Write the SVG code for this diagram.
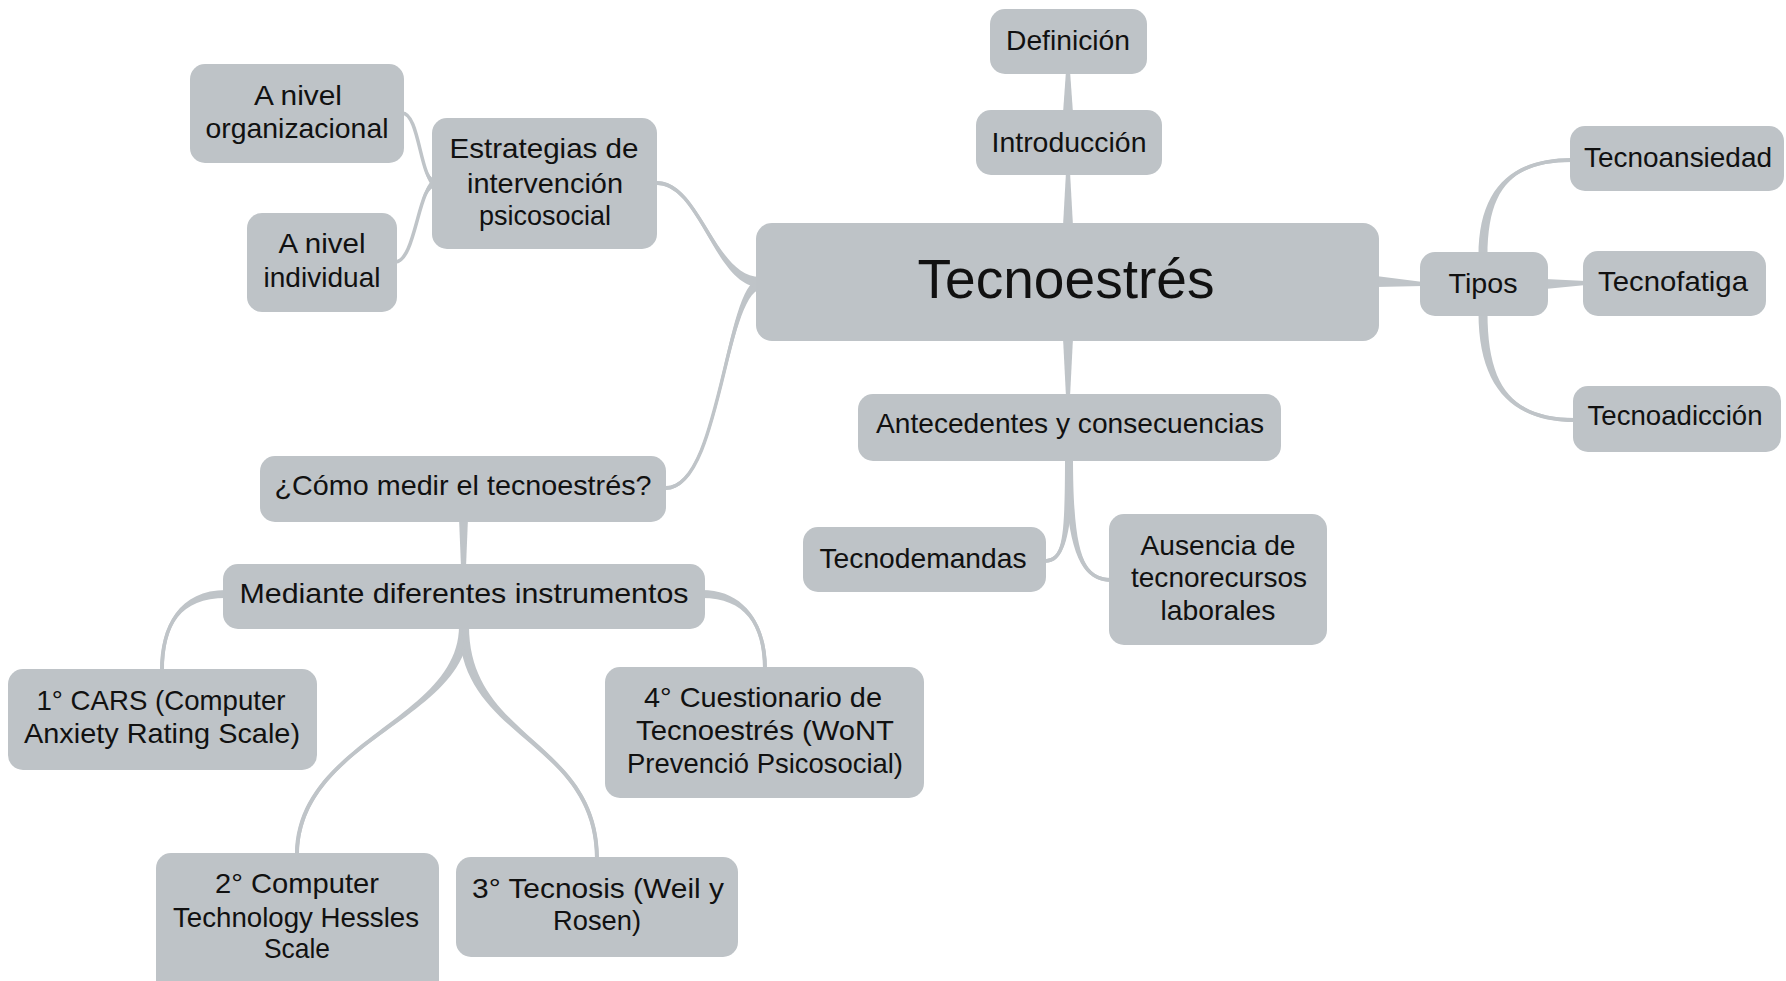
<svg xmlns="http://www.w3.org/2000/svg" width="1786" height="981" viewBox="0 0 1786 981">
  <style>
    .node rect { fill: #bec3c7; }
    .node text { font-family: "Liberation Sans", Arial, sans-serif; font-size: 28px; fill: #111; text-anchor: middle; }
    .node text.big { font-size: 56px; }
    #connectors .taper { fill: #bfc4c8; stroke: none; }
    #connectors .spine { fill: none; stroke: #bfc4c8; stroke-width: 3.5; stroke-linecap: round; }
  </style>
  <rect width="1786" height="981" fill="#ffffff"/>

  <!-- tapered branches, wide at the parent end; a thin spine keeps the steep middles solid -->
  <g id="connectors">
    <polygon class="taper" points="1063,226 1073,226 1070,172 1066,172"/>
    <polygon class="taper" points="1063,113 1073,113 1070,71 1066,71"/>
    <polygon class="taper" points="1063,338 1073,338 1070,397 1066,397"/>
    <polygon class="taper" points="1376,276 1376,287 1423,286 1423,282"/>
    <polygon class="taper" points="1545,279 1545,289 1586,285 1586,281"/>
    <polygon class="taper" points="459,518 468,518 466,567 461,567"/>
    <path class="taper" d="M1487.5,256 C1487.5,185 1515,162 1572,162 L1572,158 C1515,158 1478.5,185 1478.5,256 Z"/>
    <path class="taper" d="M1478.5,313 C1478.5,390 1515,422 1575,422 L1575,418 C1515,418 1487.5,390 1487.5,313 Z"/>
    <path class="taper" d="M760,277 C715,277 700,181 657,181 L657,185 C700,185 715,287 760,287 Z"/>
    <path class="taper" d="M759,279 C724,285 720,486 666,486 L666,490 C720,490 726,295 761,289 Z"/>
    <path class="taper" d="M436,179 C420,179 420,111.5 402,111.5 L402,114.5 C420,114.5 420,187 436,187 Z"/>
    <path class="taper" d="M436,179 C418,179 416,260.5 395,260.5 L395,263.5 C416,263.5 418,187 436,187 Z"/>
    <path class="taper" d="M1065,456 C1065,545 1062,559 1044,559 L1044,563 C1062,563 1073,545 1073,456 Z"/>
    <path class="taper" d="M1065,456 C1065,560 1085,582 1112,582 L1112,578 C1085,578 1073,560 1073,456 Z"/>
    <path class="taper" d="M226,590 C180,590 160,625 160,671 L164,671 C164,625 180,598 226,598 Z"/>
    <path class="taper" d="M702,598 C745,598 763,625 763,669 L767,669 C767,625 745,590 702,590 Z"/>
    <path class="taper" d="M459,626 C459,720 295,740 295,855 L299,855 C299,740 469,720 469,626 Z"/>
    <path class="taper" d="M459,626 C459,740 595,740 595,859 L599,859 C599,740 469,740 469,626 Z"/>

    <path class="spine" d="M1483,256 C1483,185 1515,160 1572,160"/>
    <path class="spine" d="M1483,313 C1483,390 1515,420 1575,420"/>
    <path class="spine" d="M760,282 C715,282 700,183 657,183"/>
    <path class="spine" d="M760,284 C725,290 720,488 666,488"/>
    <path class="spine" d="M436,183 C420,183 420,113 402,113"/>
    <path class="spine" d="M436,183 C418,183 416,262 395,262"/>
    <path class="spine" d="M1069,456 C1069,545 1062,561 1044,561"/>
    <path class="spine" d="M1069,456 C1069,560 1085,580 1112,580"/>
    <path class="spine" d="M226,594 C180,594 162,625 162,671"/>
    <path class="spine" d="M702,594 C745,594 765,625 765,669"/>
    <path class="spine" d="M464,626 C464,720 297,740 297,855"/>
    <path class="spine" d="M464,626 C464,740 597,740 597,859"/>
  </g>

  <g id="n-tecnoestres" class="node">
    <rect x="756" y="223" width="623" height="118" rx="16"/>
    <text class="big" x="1066" y="298" textLength="297" lengthAdjust="spacingAndGlyphs">Tecnoestrés</text>
  </g>
  <g id="n-introduccion" class="node">
    <rect x="976" y="110" width="186" height="65" rx="15"/>
    <text x="1069" y="152" textLength="155" lengthAdjust="spacingAndGlyphs">Introducción</text>
  </g>
  <g id="n-definicion" class="node">
    <rect x="990" y="9" width="157" height="65" rx="15"/>
    <text x="1068" y="50" textLength="124" lengthAdjust="spacingAndGlyphs">Definición</text>
  </g>
  <g id="n-tipos" class="node">
    <rect x="1420" y="252" width="128" height="64" rx="15"/>
    <text x="1483" y="293" textLength="69" lengthAdjust="spacingAndGlyphs">Tipos</text>
  </g>
  <g id="n-tecnoansiedad" class="node">
    <rect x="1570" y="126" width="214" height="65" rx="15"/>
    <text x="1678" y="167" textLength="188" lengthAdjust="spacingAndGlyphs">Tecnoansiedad</text>
  </g>
  <g id="n-tecnofatiga" class="node">
    <rect x="1583" y="251" width="183" height="65" rx="15"/>
    <text x="1673" y="291" textLength="150" lengthAdjust="spacingAndGlyphs">Tecnofatiga</text>
  </g>
  <g id="n-tecnoadiccion" class="node">
    <rect x="1573" y="386" width="208" height="66" rx="15"/>
    <text x="1675" y="425" textLength="175" lengthAdjust="spacingAndGlyphs">Tecnoadicción</text>
  </g>
  <g id="n-antecedentes" class="node">
    <rect x="858" y="394" width="423" height="67" rx="15"/>
    <text x="1070" y="433" textLength="388" lengthAdjust="spacingAndGlyphs">Antecedentes y consecuencias</text>
  </g>
  <g id="n-tecnodemandas" class="node">
    <rect x="803" y="527" width="243" height="65" rx="15"/>
    <text x="923" y="568" textLength="207" lengthAdjust="spacingAndGlyphs">Tecnodemandas</text>
  </g>
  <g id="n-ausencia" class="node">
    <rect x="1109" y="514" width="218" height="131" rx="15"/>
    <text x="1218" y="555" textLength="155" lengthAdjust="spacingAndGlyphs">Ausencia de</text>
    <text x="1219" y="587" textLength="176" lengthAdjust="spacingAndGlyphs">tecnorecursos</text>
    <text x="1218" y="620" textLength="115" lengthAdjust="spacingAndGlyphs">laborales</text>
  </g>
  <g id="n-estrategias" class="node">
    <rect x="432" y="118" width="225" height="131" rx="15"/>
    <text x="544" y="158" textLength="189" lengthAdjust="spacingAndGlyphs">Estrategias de</text>
    <text x="545" y="193" textLength="156" lengthAdjust="spacingAndGlyphs">intervención</text>
    <text x="545" y="225" textLength="132" lengthAdjust="spacingAndGlyphs">psicosocial</text>
  </g>
  <g id="n-organizacional" class="node">
    <rect x="190" y="64" width="214" height="99" rx="15"/>
    <text x="298" y="105" textLength="88" lengthAdjust="spacingAndGlyphs">A nivel</text>
    <text x="297" y="138" textLength="183" lengthAdjust="spacingAndGlyphs">organizacional</text>
  </g>
  <g id="n-individual" class="node">
    <rect x="247" y="213" width="150" height="99" rx="15"/>
    <text x="322" y="253" textLength="87" lengthAdjust="spacingAndGlyphs">A nivel</text>
    <text x="322" y="287" textLength="117" lengthAdjust="spacingAndGlyphs">individual</text>
  </g>
  <g id="n-como-medir" class="node">
    <rect x="260" y="456" width="406" height="66" rx="15"/>
    <text x="463" y="495" textLength="377" lengthAdjust="spacingAndGlyphs">¿Cómo medir el tecnoestrés?</text>
  </g>
  <g id="n-mediante" class="node">
    <rect x="223" y="564" width="482" height="65" rx="15"/>
    <text x="464" y="603" textLength="449" lengthAdjust="spacingAndGlyphs">Mediante diferentes instrumentos</text>
  </g>
  <g id="n-cars" class="node">
    <rect x="8" y="669" width="309" height="101" rx="15"/>
    <text x="161" y="710" textLength="249" lengthAdjust="spacingAndGlyphs">1° CARS (Computer</text>
    <text x="162" y="743" textLength="276" lengthAdjust="spacingAndGlyphs">Anxiety Rating Scale)</text>
  </g>
  <g id="n-cuestionario" class="node">
    <rect x="605" y="667" width="319" height="131" rx="15"/>
    <text x="763" y="707" textLength="238" lengthAdjust="spacingAndGlyphs">4° Cuestionario de</text>
    <text x="765" y="740" textLength="258" lengthAdjust="spacingAndGlyphs">Tecnoestrés (WoNT</text>
    <text x="765" y="773" textLength="276" lengthAdjust="spacingAndGlyphs">Prevenció Psicosocial)</text>
  </g>
  <g id="n-computer" class="node">
    <rect x="156" y="853" width="283" height="145" rx="15"/>
    <text x="297" y="893" textLength="164" lengthAdjust="spacingAndGlyphs">2° Computer</text>
    <text x="296" y="927" textLength="246" lengthAdjust="spacingAndGlyphs">Technology Hessles</text>
    <text x="297" y="958" textLength="66" lengthAdjust="spacingAndGlyphs">Scale</text>
  </g>
  <g id="n-tecnosis" class="node">
    <rect x="456" y="857" width="282" height="100" rx="15"/>
    <text x="598" y="898" textLength="252" lengthAdjust="spacingAndGlyphs">3° Tecnosis (Weil y</text>
    <text x="597" y="930" textLength="88" lengthAdjust="spacingAndGlyphs">Rosen)</text>
  </g>
</svg>
